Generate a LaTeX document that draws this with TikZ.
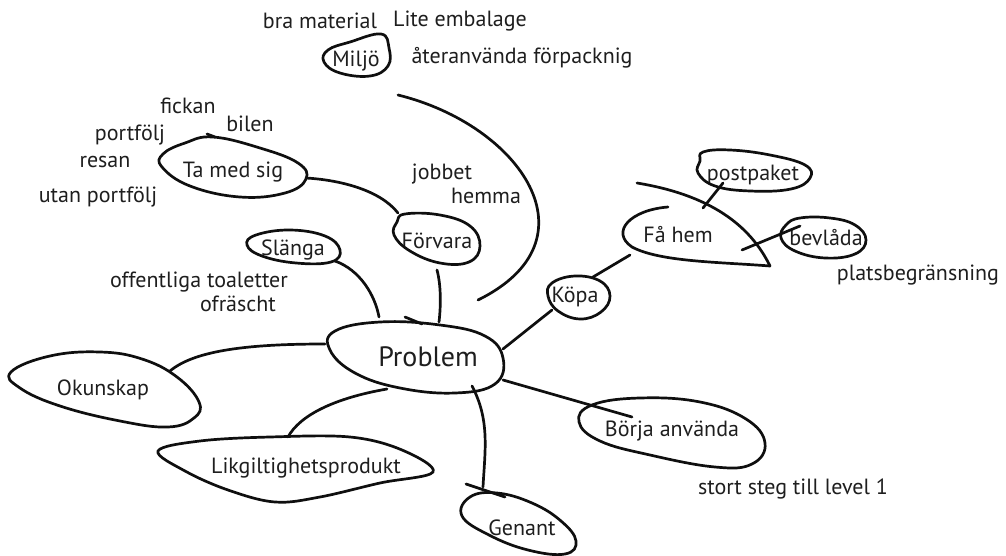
\documentclass[tikz,border=0pt]{standalone}
\usepackage{fontspec}
\setmainfont{PT Sans}
\usetikzlibrary{calc}
\definecolor{ink}{RGB}{15,15,15}
\definecolor{txt}{RGB}{30,30,30}
\tikzset{
  lbl/.style={text=txt,font=\fontsize{22}{24}\selectfont,inner sep=0pt},
  big/.style={text=txt,font=\fontsize{28}{30}\selectfont,inner sep=0pt},
  blob/.style={draw=ink,line width=2.7pt,line cap=round,line join=round},
  conn/.style={draw=ink,line width=2.7pt,line cap=round},
}
\begin{document}
\begin{tikzpicture}[x=1pt,y=-1pt]
\useasboundingbox (0,0) rectangle (1006,556);
% ---------- text nodes ----------
\node[big] (prob) at (428,357) {Problem};
\node[lbl] (milj) at (356,61) {Miljö};
\node[lbl] (bra) at (320,21) {bra material};
\node[lbl] (lite) at (460,21) {Lite embalage};
\node[lbl] (ater) at (522,58) {återanvända förpacknig};
\node[lbl] (tamed) at (233,172) {Ta med sig};
\node[lbl] (fick) at (188,106) {fickan};
\node[lbl] (bil) at (250,124) {bilen};
\node[lbl] (port) at (130,135) {portfölj};
\node[lbl] (res) at (105,162) {resan};
\node[lbl] (utan) at (98,197) {utan portfölj};
\node[lbl] (forv) at (437,241) {Förvara};
\node[lbl] (jobb) at (442,174) {jobbet};
\node[lbl] (hemm) at (486,196) {hemma};
\node[lbl] (slang) at (293,250) {Slänga};
\node[lbl] (offe) at (199,282) {offentliga toaletter};
\node[lbl] (ofra) at (238,304) {ofräscht};
\node[lbl] (okun) at (103,390) {Okunskap};
\node[lbl] (likg) at (306,468) {Likgiltighetsprodukt};
\node[lbl] (gena) at (522,528) {Genant};
\node[lbl] (borj) at (672,431) {Börja använda};
\node[lbl] (stor) at (793,489) {stort steg till level 1};
\node[lbl] (kopa) at (575,297) {Köpa};
\node[lbl] (fahem) at (678,235) {Få hem};
\node[lbl] (post) at (753,175) {postpaket};
\node[lbl] (bevl) at (826,238) {bevlåda};
\node[lbl] (plat) at (918,275) {platsbegränsning};
% ---------- blobs ----------
\draw[blob] plot[smooth cycle,tension=0.7] coordinates {(381,34) (389,48) (388,66) (370,76) (340,73) (324,62) (328,50) (350,42)};
\draw[blob] plot[smooth cycle,tension=0.7] coordinates {(213,137) (260,148) (298,163) (306,179) (285,193) (240,197) (190,186) (162,167) (163,154) (185,143)};
\draw[blob] (207,134) -- (215,137);
\draw[blob] plot[smooth cycle,tension=0.7] coordinates {(405,214) (440,215) (470,226) (480,246) (469,262) (440,263) (410,251) (394,235) (397,222)};
\draw[blob] plot[smooth cycle,tension=0.7] coordinates {(256,235) (290,230) (325,236) (340,250) (331,262) (296,263) (262,256) (247,245)};
\draw[blob] plot[smooth cycle,tension=0.7] coordinates {(335,331) (380,322) (440,325) (485,336) (503,358) (495,384) (455,393) (400,388) (355,373) (330,350)};
\draw[blob] (405,317) -- (422,324);
\draw[blob] plot[smooth cycle,tension=0.7] coordinates {(11,372) (50,356) (100,352) (142,359) (177,377) (199,402) (194,418) (168,427) (120,421) (60,406) (20,388)};
\draw[blob] plot[smooth cycle,tension=0.6] coordinates {(158,451) (200,441) (270,437) (350,437) (402,450) (433,472) (380,483) (320,497) (275,502) (228,490) (185,471)};
\draw[blob] plot[smooth cycle,tension=0.7] coordinates {(470,497) (497,493) (532,503) (561,521) (576,541) (565,554) (528,550) (489,535) (462,516)};
\draw[blob] (466,484) -- (505,497);
\draw[blob] plot[smooth cycle,tension=0.7] coordinates {(592,405) (640,398) (700,402) (746,419) (765,443) (752,464) (715,467) (650,455) (600,441) (579,422)};
\draw[blob] plot[smooth cycle,tension=0.7] coordinates {(552,283) (575,276) (600,281) (610,296) (601,312) (580,319) (558,311) (548,296)};
\draw[blob] (668,207) .. controls (630,210) and (610,232) .. (632,247) .. controls (660,262) and (720,262) .. (770,266);
\draw[blob] (637,183) .. controls (710,195) and (750,225) .. (770,266);
\draw[blob] plot[smooth cycle,tension=0.7] coordinates {(703,152) (730,150) (770,155) (805,165) (810,178) (791,189) (750,191) (715,186) (698,173) (700,161)};
\draw[blob] plot[smooth cycle,tension=0.7] coordinates {(800,218) (830,218) (855,225) (866,240) (855,254) (825,258) (795,251) (781,238) (786,225)};
% ---------- connectors ----------
\coordinate (c1) at (398,95);   \coordinate (c2) at (478,300);
\draw[conn] (c1) .. controls (520,125) and (600,240) .. (c2);
\coordinate (c3) at (306,178);  \coordinate (c4) at (398,213);
\draw[conn] (c3) .. controls (340,180) and (380,190) .. (c4);
\coordinate (c5) at (437,270);  \coordinate (c6) at (439,322);
\draw[conn] (c5) .. controls (441,285) and (441,305) .. (c6);
\coordinate (c7) at (335,261);  \coordinate (c8) at (379,317);
\draw[conn] (c7) .. controls (360,270) and (375,295) .. (c8);
\coordinate (c9) at (325,344);  \coordinate (c10) at (170,371);
\draw[conn] (c9) .. controls (250,344) and (195,350) .. (c10);
\coordinate (c11) at (387,389); \coordinate (c12) at (288,437);
\draw[conn] (c11) .. controls (335,398) and (300,415) .. (c12);
\coordinate (c13) at (472,386); \coordinate (c14) at (483,487);
\draw[conn] (c13) .. controls (490,420) and (485,450) .. (c14);
\coordinate (c15) at (503,380); \coordinate (c16) at (632,417);
\draw[conn] (c15) -- (c16);
\coordinate (c17) at (503,349); \coordinate (c18) at (552,310);
\draw[conn] (c17) -- (c18);
\coordinate (c19) at (593,277); \coordinate (c20) at (630,255);
\draw[conn] (c19) -- (c20);
\coordinate (c21) at (723,183); \coordinate (c22) at (703,208);
\draw[conn] (c21) -- (c22);
\coordinate (c23) at (742,250); \coordinate (c24) at (800,226);
\draw[conn] (c23) -- (c24);
\end{tikzpicture}
\end{document}
